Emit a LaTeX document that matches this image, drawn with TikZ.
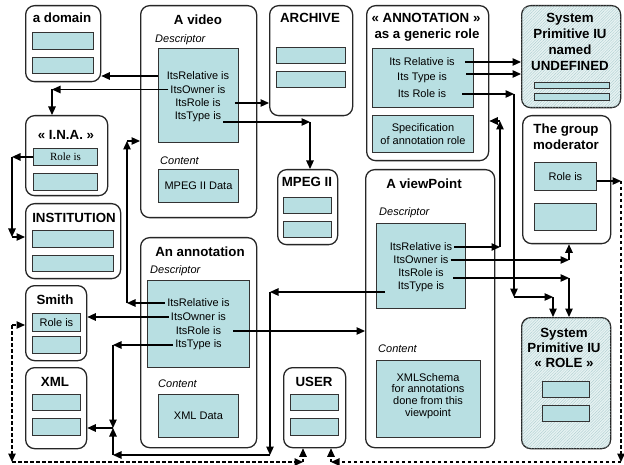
\documentclass[tikz,border=0pt]{standalone}
\usepackage{fontspec}
\setmainfont{Liberation Sans}
\newfontfamily\timesfam{Liberation Serif}
\usetikzlibrary{arrows.meta,patterns.meta}
\definecolor{cellc}{RGB}{184,223,226}
\definecolor{hatchbg}{RGB}{230,242,242}
\definecolor{hatchln}{RGB}{168,202,204}
% box from top-left (x1,y1) to bottom-right (x2,y2)
\newcommand\mkbox[7]{\node[#2,anchor=north west,minimum width={(#5)-(#3)},minimum height={(#6)-(#4)}] (#1) at (#3,#4) {#7};}
\begin{document}
\begin{tikzpicture}[x=1pt,y=-1pt,
  big/.style={draw=black!85,line width=1.3pt,rounded corners=9pt,fill=white,inner sep=0pt},
  hbox/.style={big,fill=hatchbg,postaction={pattern={Lines[angle=45,distance=2pt,line width=0.3pt]},pattern color=hatchln}},
  cell/.style={draw=black!80,line width=0.9pt,fill=cellc,inner sep=0pt,font=\fontsize{11}{13.5}\selectfont,align=center},
  ttl/.style={font=\bfseries\fontsize{13.3}{16}\selectfont,align=center,inner sep=0pt},
  ln/.style={font=\fontsize{11}{13}\selectfont,inner sep=2pt},
  sec/.style={font=\itshape\fontsize{11}{13}\selectfont,anchor=west,inner sep=0pt},
  arr/.style={line width=1.25pt,-{Triangle[length=8.5pt,width=7.5pt]}},
  dsh/.style={arr,line width=1.1pt,dash pattern=on 3.5pt off 2.5pt}]
\useasboundingbox (0,0) rectangle (624,465);

% ---------- outer boxes ----------
\mkbox{dom}{big}{25}{5}{100}{81}{}
\mkbox{vid}{big}{140}{5}{256}{217}{}
\mkbox{arch}{big}{269}{5}{352}{115}{}
\mkbox{annr}{big}{366}{5}{488}{160}{}
\mkbox{undef}{hbox}{521}{5}{620}{107}{}
\mkbox{mod}{big}{522}{115}{610}{243}{}
\mkbox{ina}{big}{25}{115}{107}{195}{}
\mkbox{inst}{big}{25}{203}{120}{278}{}
\mkbox{smith}{big}{25}{285}{86}{360}{}
\mkbox{xml}{big}{25}{367}{86}{448}{}
\mkbox{ann}{big}{140}{237}{256}{447}{}
\mkbox{mpeg}{big}{277}{169}{337}{244}{}
\mkbox{user}{big}{283}{367}{345}{447}{}
\mkbox{vp}{big}{365}{169}{494}{447}{}
\mkbox{role}{hbox}{521}{317}{610}{448}{}

% ---------- inner cells ----------
\mkbox{domA}{cell}{32}{32}{93}{49}{}
\mkbox{domB}{cell}{32}{57}{93}{73}{}
\mkbox{vidDesc}{cell}{158}{48}{238}{142}{}
\mkbox{vidCont}{cell}{158}{169}{238}{202}{MPEG II Data}
\mkbox{archA}{cell}{276}{47}{345}{63}{}
\mkbox{archB}{cell}{276}{71}{345}{87}{}
\mkbox{arDesc}{cell}{372}{48}{473}{107}{}
\mkbox{arSpec}{cell}{372}{115}{473}{152}{Specification\\of annotation role}
\mkbox{undA}{cell}{534}{82}{609}{88}{}
\mkbox{undB}{cell}{534}{93}{609}{100}{}
\mkbox{modA}{cell}{534}{162}{596}{190}{Role is}
\mkbox{modB}{cell}{534}{203}{596}{230}{}
\mkbox{inaA}{cell}{33}{148}{97}{165}{\timesfam Role is}
\mkbox{inaB}{cell}{33}{173}{97}{190}{}
\mkbox{instA}{cell}{32}{230}{113}{247}{}
\mkbox{instB}{cell}{32}{255}{113}{271}{}
\mkbox{smA}{cell}{32}{313}{80}{331}{Role is}
\mkbox{smB}{cell}{32}{336}{80}{353}{}
\mkbox{xmlA}{cell}{32}{394}{80}{410}{}
\mkbox{xmlB}{cell}{32}{418}{80}{435}{}
\mkbox{annDesc}{cell}{147}{280}{249}{367}{}
\mkbox{annCont}{cell}{158}{394}{238}{437}{XML Data}
\mkbox{mpA}{cell}{283}{197}{331}{213}{}
\mkbox{mpB}{cell}{283}{221}{331}{237}{}
\mkbox{usA}{cell}{290}{394}{338}{410}{}
\mkbox{usB}{cell}{290}{418}{338}{435}{}
\mkbox{vpDesc}{cell}{376}{223}{465}{308}{}
\mkbox{vpCont}{cell}{376}{360}{480}{437}{}
\mkbox{roA}{cell}{542}{381}{589}{397}{}
\mkbox{roB}{cell}{542}{405}{589}{421}{}

% ---------- titles ----------
\node[ttl] (domT) at (62,18) {a domain};
\node[ttl] (vidT) at (198,20) {A video};
\node[ttl] (archT) at (310,18) {ARCHIVE};
\node[ttl] (annrT1) at (426,18) {« ANNOTATION »};
\node[ttl] (annrT2) at (427,35) {as a generic role};
\node[ttl] (undT) at (570,42) {System\\Primitive IU\\named\\UNDEFINED};
\node[ttl] (modT) at (566,137) {The group\\moderator};
\node[ttl] (inaT) at (66,135) {« I.N.A. »};
\node[ttl] (instT) at (74,218) {INSTITUTION};
\node[ttl] (smT) at (55,300) {Smith};
\node[ttl] (xmlT) at (55,382) {XML};
\node[ttl] (annT) at (200,252) {An annotation};
\node[ttl] (mpT) at (307,182) {MPEG II};
\node[ttl] (usT) at (314,382) {USER};
\node[ttl] (vpT) at (424,184) {A viewPoint};
\node[ttl,font=\bfseries\fontsize{13.3}{15}\selectfont] (roT) at (564,348) {System\\Primitive IU\\« ROLE »};

% ---------- section labels ----------
\node[sec] (vidDl) at (155,40) {Descriptor};
\node[sec] (vidCl) at (160,161) {Content};
\node[sec] (annDl) at (150,271) {Descriptor};
\node[sec] (annCl) at (158,384) {Content};
\node[sec] (vpDl) at (379,213) {Descriptor};
\node[sec] (vpCl) at (378,349) {Content};

% ---------- descriptor lines ----------
\node[ln] (vidRel) at (198,76) {ItsRelative is};
\node[ln] (vidOwn) at (198,89.5) {ItsOwner is};
\node[ln] (vidRole) at (198,103) {ItsRole is};
\node[ln] (vidType) at (198,116.5) {ItsType is};
\node[ln] (annRel) at (198.5,303) {ItsRelative is};
\node[ln] (annOwn) at (198.5,317) {ItsOwner is};
\node[ln] (annRole) at (198.5,331) {ItsRole is};
\node[ln] (annType) at (198.5,345) {ItsType is};
\node[ln] (arRel) at (422,62) {Its Relative is};
\node[ln] (arType) at (422,78) {Its Type is};
\node[ln] (arRole) at (422,94) {Its Role is};
\node[ln] (vpRel) at (421,247) {ItsRelative is};
\node[ln] (vpOwn) at (421,260) {ItsOwner is};
\node[ln] (vpRole) at (421,273) {ItsRole is};
\node[ln] (vpType) at (421,287) {ItsType is};
\node[ln,align=center,font=\fontsize{11}{11.7}\selectfont] (vpContT) at (428,396) {XMLSchema\\for annotations\\done from this\\viewpoint};

% ---------- connectors: video ----------
\coordinate (kOwn) at (52,88);
\draw[arr] (vidDesc.west |- vidRel) -- (dom.east |- vidRel);
\draw[arr] (vidOwn.west) -- (kOwn |- vidOwn.west);
\draw[arr] (kOwn |- vidOwn.west) -- (kOwn |- ina.north);
\draw[arr] ([xshift=12pt]vidRole.east) -- (arch.west |- vidRole.east);
\coordinate (kType) at (310,122);
\draw[arr] (vidType.east |- kType) -- (kType);
\draw[arr] (kType) -- (kType |- mpeg.north);

% ---------- connectors: annotation ----------
\coordinate (kAR) at (127,141);
\draw[arr] (annRel.west) -- (kAR |- annRel.west);
\draw[arr] (kAR |- annRel.west) -- (kAR);
\draw[arr] (kAR) -- (vid.west |- kAR);
\draw[arr] (annOwn.west) -- (smith.east |- annOwn.west);
\draw[arr] ([xshift=10pt]annRole.east) -- (vp.west |- annRole.east);
\coordinate (kX) at (113,428);
\draw[arr] (annType.west) -- (kX |- annType.west);
\draw[arr] (kX |- annType.west) -- (kX);
\draw[arr] (kX) -- (xml.east |- kX);

% ---------- connectors: viewpoint ----------
\coordinate (vpTypeOut) at (385,292);
\coordinate (kB) at (270,455);
\draw[arr] (vpTypeOut) -- (kB |- vpTypeOut);
\draw[arr] (kB |- vpTypeOut) -- (kB);
\draw[arr] (kB) -- (kX |- kB);
\draw[arr] (kX |- kB) -- (kX);
\coordinate (kVR) at (500,121);
\draw[arr] (vpRel.east) -- (kVR |- vpRel.east);
\draw[arr] (kVR |- vpRel.east) -- (kVR);
\draw[arr] (kVR) -- (annr.east |- kVR);
\coordinate (kVo) at (569,259);
\draw[arr] (vpOwn.east) -- (kVo |- vpOwn.east);
\draw[arr] (kVo |- vpOwn.east) -- (kVo |- mod.south);
\coordinate (vpRoleOut) at (453,278);
\draw[arr] (vpRoleOut) -- (kVo |- vpRoleOut);
\draw[arr] (kVo |- vpRoleOut) -- (kVo |- role.north);

% ---------- connectors: generic role ----------
\draw[arr] ([xshift=8pt]arRel.east) -- (undef.west |- arRel.east);
\coordinate (arTypeOut) at (466,74);
\draw[arr] (arTypeOut) -- (undef.west |- arTypeOut);
\coordinate (kRl) at (514,297);
\coordinate (kRa) at (553,297);
\draw[arr] ([xshift=14pt]arRole.east) -- (kRl |- arRole.east);
\draw[arr] (kRl |- arRole.east) -- (kRl);
\draw[arr] (kRl) -- (kRa);
\draw[arr] (kRa) -- (kRa |- role.north);

% ---------- connectors: I.N.A. ----------
\coordinate (kI) at (12,237);
\draw[arr] (inaA.west) -- (kI |- inaA.west);
\draw[arr] (kI |- inaA.west) -- (kI);
\draw[arr] (kI) -- (inst.west |- kI);

% ---------- dashed links to USER ----------
\coordinate (kDR) at (621,181);
\coordinate (kDRb) at (621,462);
\coordinate (kUb) at (331,462);
\draw[arr] (modA.east |- kDR) -- (kDR);
\draw[dsh] (kDR) -- (kDRb);
\draw[dsh] (kDRb) -- (kUb);
\draw[dsh] (kUb) -- (kUb |- user.south);
\coordinate (kDL) at (12,325);
\coordinate (kDLb) at (12,462);
\coordinate (kUa) at (303,462);
\draw[dsh] (kDL) -- (smith.west |- kDL);
\draw[dsh] (kDL) -- (kDLb);
\draw[dsh] (kDLb) -- (kUa);
\draw[dsh] (kUa) -- (kUa |- user.south);
\end{tikzpicture}
\end{document}
